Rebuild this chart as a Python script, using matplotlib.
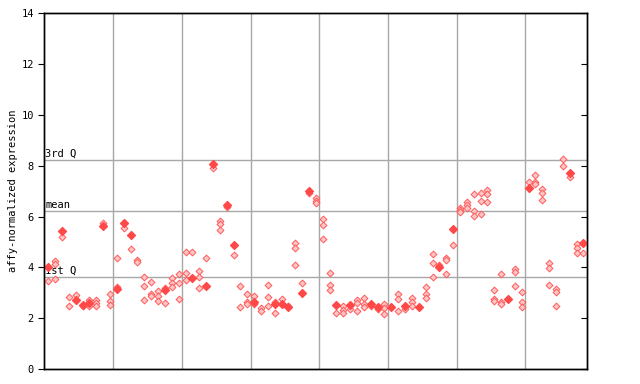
import numpy as np
import matplotlib
matplotlib.use("Agg")
import matplotlib.pyplot as plt

# replicate values per sample column (hollow markers)
hollow = [
    [3.45], [4.25, 4.12, 3.54], [5.18], [2.85, 2.48], [2.91],
    [2.47], [2.73, 2.47], [2.7, 2.6, 2.47], [5.75], [2.95, 2.68, 2.52],
    [4.38, 3.24], [5.54], [4.72], [4.29, 4.2], [3.63, 3.27, 2.72],
    [3.42, 2.95, 2.87], [3.07, 2.87, 2.66], [3.2, 2.59], [3.6, 3.4, 3.24], [3.73, 3.37, 2.74],
    [4.59, 3.77, 3.49], [4.59], [3.85, 3.63, 3.18], [4.36], [7.9],
    [5.81, 5.71, 5.46], [6.38], [4.48], [3.27, 2.43], [2.95, 2.65, 2.56],
    [2.86, 2.56], [2.39, 2.3], [3.29, 2.83, 2.48], [2.62, 2.22], [2.74],
    [2.5], [4.96, 4.75, 4.08], [3.37], [6.95], [6.72, 6.61, 6.52],
    [5.9, 5.66, 5.1], [3.77, 3.29, 3.1], [2.19], [2.48, 2.32, 2.22], [2.35],
    [2.72, 2.61, 2.27], [2.78, 2.56, 2.43], [2.5], [2.35], [2.55, 2.39, 2.17],
    [], [2.94, 2.74, 2.27], [2.35], [2.8, 2.65, 2.48], [],
    [3.22, 2.94, 2.8], [4.51, 4.16, 3.61], [4.1], [4.37, 4.29, 3.73], [4.87],
    [6.35, 6.26, 6.19], [6.56, 6.46, 6.33], [6.88, 6.22, 6.01], [6.92, 6.6, 6.09], [7.05, 6.88, 6.57],
    [3.1, 2.77, 2.69], [3.73, 2.64, 2.56], [], [3.92, 3.81, 3.27], [3.02, 2.63, 2.43],
    [7.35], [7.64, 7.35, 7.27], [7.07, 6.92, 6.64], [4.17, 3.98, 3.29], [3.14, 3.04, 2.5],
    [8.26, 7.98], [7.55], [4.92, 4.75, 4.55], [4.55],
]

# highlighted value per column (filled markers), None if absent
filled = [
    4.0, None, 5.43, None, 2.73, 2.52, 2.6, None, 5.63, None,
    3.14, 5.73, 5.26, None, None, None, None, 3.12, None, None,
    None, 3.6, None, 3.28, 8.08, None, 6.44, 4.88, None, None,
    2.65, None, None, 2.57, 2.56, 2.45, None, 3.0, 7.0, None,
    None, None, 2.52, None, 2.52, None, None, 2.56, 2.45, None,
    2.45, None, 2.48, None, 2.45, None, None, 4.0, None, 5.51,
    None, None, None, None, None, None, None, 2.74, None, None,
    7.14, None, None, None, None, None, 7.73, None, 4.97,
]

q1, mean, q3 = 3.62, 6.21, 8.22
group_edges = [9.5, 19.5, 29.5, 39.5, 49.5, 59.5, 69.5]

fig = plt.figure(figsize=(6.4, 3.84), dpi=100)
ax = fig.add_axes([0.069, 0.039, 0.848, 0.926])

for xe in group_edges:
    ax.axvline(xe, color="#a8a8a8", lw=1, zorder=1)
for yv in (q1, mean, q3):
    ax.axhline(yv, color="#a8a8a8", lw=1, zorder=1)

hx, hy = [], []
for i, vals in enumerate(hollow):
    for v in vals:
        hx.append(i)
        hy.append(v)
fx = [i for i, v in enumerate(filled) if v is not None]
fy = [v for v in filled if v is not None]

ax.scatter(hx, hy, marker="D", s=12, facecolor="#ffc4c4", edgecolor="#ff5a5a",
           linewidths=0.7, zorder=3)
ax.scatter(fx, fy, marker="D", s=16, color="#ff4848", zorder=4)

mono = "DejaVu Sans Mono"
ax.text(-0.45, q3 + 0.05, "3rd Q", fontsize=7.5, family=mono, va="bottom")
ax.text(-0.45, mean + 0.05, "mean", fontsize=7.5, family=mono, va="bottom")
ax.text(-0.45, q1 + 0.05, "1st Q", fontsize=7.5, family=mono, va="bottom")

ax.set_xlim(-0.6, 78.5)
ax.set_ylim(0, 14)
ax.set_yticks(np.arange(0, 15, 2))
ax.set_xticks([])
ax.tick_params(axis="y", direction="out", length=4, labelsize=7.5)
for lab in ax.get_yticklabels():
    lab.set_family(mono)
ax.set_ylabel("affy-normalized expression", fontsize=7.5, family=mono, labelpad=2)

ax2 = ax.twinx()
ax2.set_ylim(0, 14)
ax2.set_yticks(np.arange(0, 15, 2))
ax2.tick_params(axis="y", direction="in", length=4, labelright=False)

for a in (ax, ax2):
    for sp in a.spines.values():
        sp.set_color("black")
        sp.set_linewidth(1)

fig.savefig("out.png", dpi=100)
